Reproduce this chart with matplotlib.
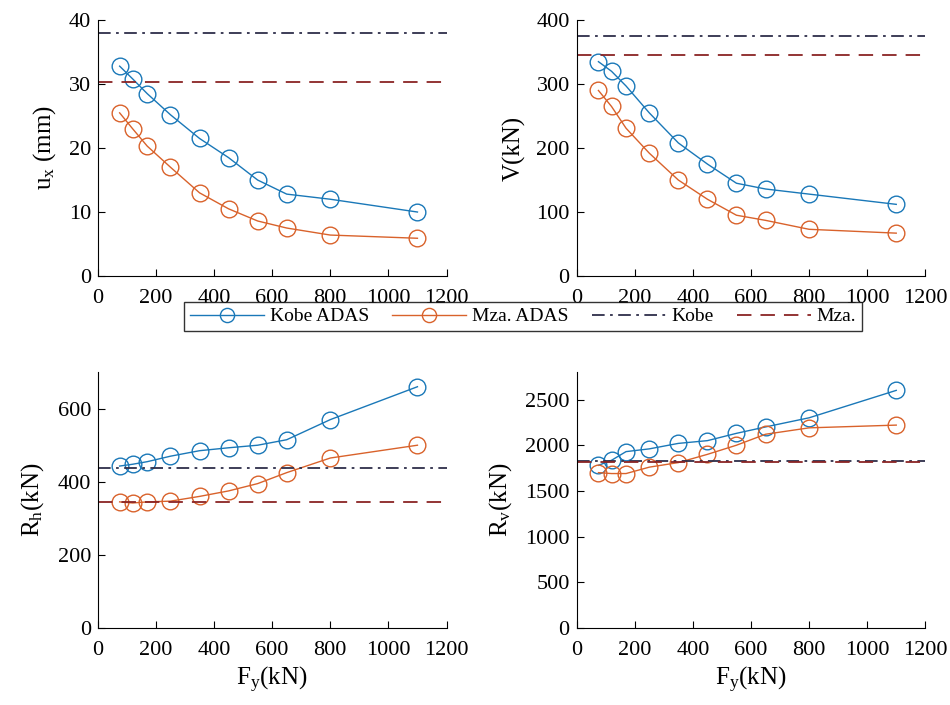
import numpy as np
import matplotlib
matplotlib.use("Agg")
import matplotlib.pyplot as plt

plt.rcParams['font.family'] = ['Liberation Serif', 'DejaVu Serif']
plt.rcParams['mathtext.fontset'] = 'custom'
plt.rcParams['mathtext.rm'] = 'Liberation Serif'
plt.rcParams['mathtext.it'] = 'Liberation Serif:italic'

# vertical load levels
fv = [75, 120, 170, 250, 350, 450, 550, 650, 800, 1100]

# lateral displacement (mm)
ux_kobe = [32.8, 30.8, 28.5, 25.2, 21.5, 18.5, 15.0, 12.8, 12.0, 10.0]
ux_mza = [25.5, 23.0, 20.3, 17.0, 13.0, 10.5, 8.6, 7.5, 6.4, 5.9]
ux_ref = [38.0, 30.4]

# base shear (kN)
v_kobe = [335, 320, 297, 255, 208, 175, 145, 136, 128, 112]
v_mza = [290, 265, 231, 192, 150, 120, 95, 87, 73, 67]
v_ref = [375, 345]

# horizontal reaction (kN)
rh_kobe = [443, 448, 455, 470, 485, 493, 500, 515, 570, 660]
rh_mza = [345, 342, 345, 347, 360, 375, 395, 425, 465, 500]
rh_ref = [437, 345]

# vertical reaction (kN)
rv_kobe = [1780, 1835, 1930, 1960, 2020, 2050, 2130, 2200, 2300, 2600]
rv_mza = [1700, 1690, 1690, 1760, 1810, 1900, 2000, 2120, 2190, 2220]
rv_ref = [1830, 1820]

blue = '#1a78b8'
orange = '#d9622b'
kobe_c = '#2e2e4a'
mza_c = '#8a2424'

fig = plt.figure(figsize=(9.5, 7.05), dpi=100)

w, h = 0.367, 0.363
boxes = [(0.103, 0.6085), (0.607, 0.6085), (0.103, 0.1092), (0.607, 0.1092)]

panels = [
    (ux_kobe, ux_mza, ux_ref, 40, np.arange(0, 41, 10), r'u$_\mathregular{x}$ (mm)'),
    (v_kobe, v_mza, v_ref, 400, np.arange(0, 401, 100), 'V(kN)'),
    (rh_kobe, rh_mza, rh_ref, 700, np.arange(0, 601, 200), r'R$_\mathregular{h}$(kN)'),
    (rv_kobe, rv_mza, rv_ref, 2800, np.arange(0, 2501, 500), r'R$_\mathregular{v}$(kN)'),
]

handles = None
for i, ((kobe, mza, ref, ymax, yt, ylab), (x0, y0)) in enumerate(zip(panels, boxes)):
    ax = fig.add_axes([x0, y0, w, h])
    l1, = ax.plot(fv, kobe, '-o', color=blue, lw=1.0, ms=12, mfc='none', mew=1.0)
    l2, = ax.plot(fv, mza, '-o', color=orange, lw=1.0, ms=12, mfc='none', mew=1.0)
    l3 = ax.axhline(ref[0], color=kobe_c, lw=1.3, dashes=(7, 3, 1.5, 3))
    l4 = ax.axhline(ref[1], color=mza_c, lw=1.3, dashes=(8, 5))
    ax.set_xlim(0, 1200)
    ax.set_ylim(0, ymax)
    ax.set_xticks(np.arange(0, 1201, 200))
    ax.set_yticks(yt)
    ax.spines['top'].set_visible(False)
    ax.spines['right'].set_visible(False)
    ax.tick_params(direction='in', labelsize=16, length=5)
    ax.tick_params(axis='x', pad=9)
    ax.tick_params(axis='y', pad=5)
    ax.set_ylabel(ylab, fontsize=18, labelpad=8)
    if i >= 2:
        ax.set_xlabel(r'F$_\mathregular{y}$(kN)', fontsize=18, labelpad=4)
    handles = [l1, l2, l3, l4]

leg = fig.legend(handles, ['Kobe ADAS', 'Mza. ADAS', 'Kobe', 'Mza.'],
                 loc='center', bbox_to_anchor=(0.5505, 0.551), ncol=4,
                 fontsize=14, frameon=True, fancybox=False,
                 handlelength=3.8, columnspacing=1.2, handletextpad=0.3,
                 borderpad=0.3, borderaxespad=0, markerscale=0.85)
leg.get_frame().set_edgecolor('black')
leg.get_frame().set_linewidth(1.0)

fig.savefig('out.png', dpi=100)
